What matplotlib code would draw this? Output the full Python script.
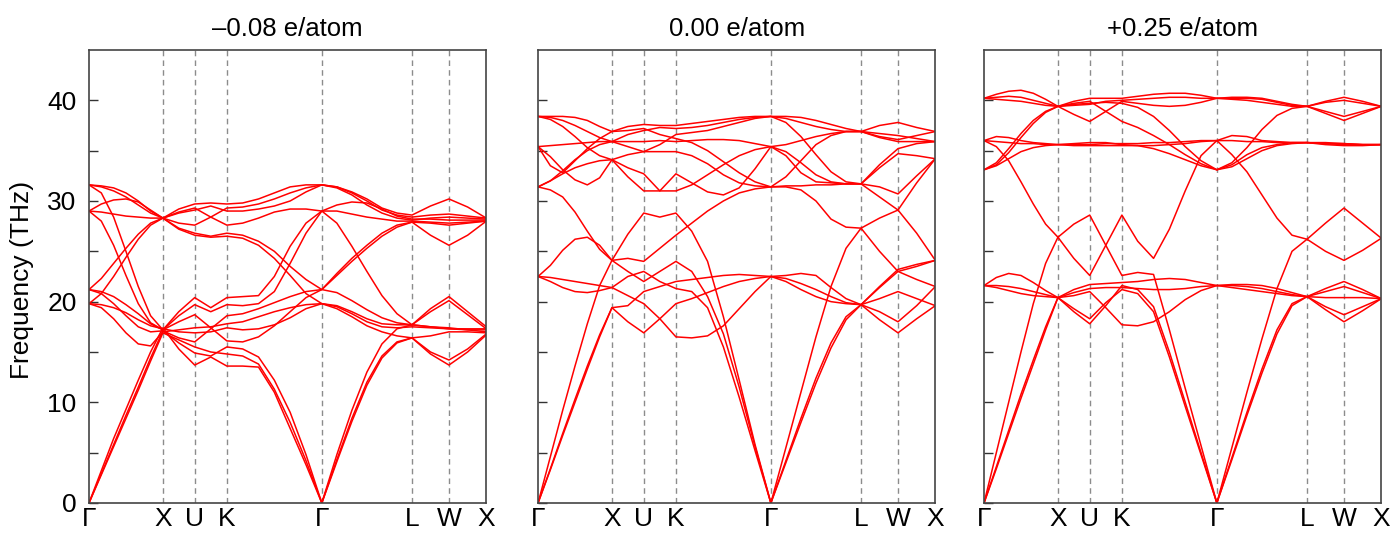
import matplotlib.pyplot as plt
import numpy as np

plt.rcParams["font.family"] = ["Liberation Sans", "DejaVu Sans"]

# high-symmetry path: labels and fractional positions of the points
labels = ["Γ", "X", "U", "K", "Γ", "L", "W", "X"]
kticks = [0.0, 0.186, 0.266, 0.347, 0.586, 0.813, 0.906, 1.0]
# number of q-points per segment (end points included)
seg_samples = [7, 3, 3, 7, 7, 3, 3]

titles = ["\u20130.08 e/atom", "0.00 e/atom", "+0.25 e/atom"]

# phonon branches in THz, one row per branch, 27 q-points along the path
bands_m008 = [
    [31.6, 31.4, 31.0, 30.4, 29.6, 28.8, 28.3, 29.2, 29.7, 29.8, 29.7, 29.8, 30.2, 30.8, 31.4, 31.6, 31.6, 31.4, 30.9, 30.2, 29.3, 28.8, 28.6, 29.5, 30.2, 29.4, 28.3],
    [29.0, 29.7, 30.1, 30.2, 29.9, 29.1, 28.3, 27.8, 27.6, 28.4, 29.3, 29.4, 29.7, 30.2, 30.8, 31.3, 31.6, 31.4, 30.8, 30.0, 29.1, 28.6, 28.4, 28.6, 28.7, 28.5, 28.3],
    [29.0, 28.9, 28.7, 28.5, 28.4, 28.3, 28.3, 28.8, 29.1, 29.5, 29.0, 29.0, 29.2, 29.5, 30.0, 30.9, 31.6, 31.3, 30.6, 29.6, 28.8, 28.3, 28.1, 28.3, 28.4, 28.3, 28.2],
    [31.6, 31.5, 31.3, 30.8, 30.0, 29.0, 28.3, 28.9, 29.3, 28.4, 27.6, 27.8, 28.3, 28.9, 29.2, 29.2, 29.0, 29.6, 29.9, 29.8, 29.2, 28.5, 28.2, 28.2, 28.1, 28.1, 28.1],
    [19.8, 20.8, 22.5, 24.4, 26.2, 27.6, 28.3, 27.3, 26.8, 26.5, 26.8, 26.6, 26.0, 25.0, 23.5, 22.2, 21.2, 22.8, 24.3, 25.6, 26.8, 27.6, 27.9, 27.8, 27.6, 27.8, 28.0],
    [21.2, 22.3, 23.8, 25.3, 26.7, 27.8, 28.3, 27.2, 26.6, 26.4, 26.5, 26.3, 25.6, 24.3, 22.6, 20.8, 19.8, 19.6, 19.0, 18.3, 17.8, 17.7, 17.7, 17.5, 17.3, 17.3, 17.3],
    [31.6, 30.8, 28.4, 25.0, 21.5, 18.6, 17.2, 19.0, 20.4, 19.4, 20.4, 20.5, 20.6, 22.5, 25.5, 27.8, 29.0, 27.8, 25.5, 23.0, 20.6, 18.8, 17.7, 19.3, 20.5, 19.0, 17.5],
    [29.0, 28.0, 25.6, 22.6, 19.8, 17.9, 17.2, 18.6, 19.7, 19.0, 19.7, 19.6, 19.8, 21.0, 23.8, 26.8, 29.0, 29.0, 28.7, 28.4, 28.2, 28.0, 28.0, 27.9, 27.8, 27.9, 28.0],
    [21.2, 20.8, 19.8, 18.6, 17.5, 17.0, 17.1, 16.4, 16.0, 17.3, 18.6, 18.8, 19.3, 19.9, 20.5, 21.0, 21.2, 22.6, 24.0, 25.3, 26.5, 27.4, 27.9, 26.6, 25.6, 26.6, 28.0],
    [21.2, 21.0, 20.5, 19.7, 18.8, 17.8, 17.2, 18.0, 18.7, 17.4, 16.1, 16.0, 16.5, 17.6, 19.0, 20.4, 21.2, 20.9, 20.1, 19.2, 18.4, 17.9, 17.7, 19.0, 20.1, 18.7, 17.3],
    [19.8, 19.4, 18.3, 16.9, 15.8, 15.6, 17.0, 17.2, 17.4, 17.5, 17.8, 18.0, 18.5, 19.0, 19.4, 19.7, 19.8, 19.3, 18.5, 17.6, 17.0, 16.6, 16.4, 15.0, 14.2, 15.3, 16.8],
    [19.8, 19.7, 19.4, 18.9, 18.2, 17.6, 17.3, 17.0, 16.9, 17.0, 17.4, 17.2, 17.3, 17.7, 18.4, 19.3, 19.8, 19.5, 18.8, 18.0, 17.5, 17.4, 17.5, 17.4, 17.3, 17.2, 17.2],
    [0.0, 2.9, 5.8, 8.7, 11.5, 14.4, 17.1, 15.9, 14.9, 14.6, 15.5, 15.3, 14.5, 12.2, 9.0, 4.8, 0.0, 4.3, 8.4, 12.0, 14.6, 16.0, 16.4, 14.8, 13.7, 15.0, 16.7],
    [0.0, 2.8, 5.6, 8.4, 11.2, 14.1, 16.9, 16.2, 15.5, 15.0, 14.8, 14.6, 13.8, 11.3, 8.0, 4.2, 0.0, 4.1, 8.1, 11.7, 14.4, 15.9, 16.4, 16.6, 17.0, 17.0, 16.9],
    [0.0, 3.2, 6.4, 9.3, 12.2, 15.0, 17.4, 15.3, 13.7, 14.5, 13.6, 13.6, 13.5, 11.0, 7.4, 3.8, 0.0, 4.8, 9.2, 13.0, 15.8, 17.3, 17.7, 17.5, 17.4, 17.2, 17.0],
]

bands_000 = [
    [38.4, 38.4, 38.4, 38.3, 38.0, 37.4, 36.9, 37.4, 37.6, 37.5, 37.5, 37.7, 37.9, 38.1, 38.3, 38.4, 38.4, 38.4, 38.3, 38.0, 37.6, 37.2, 36.9, 37.5, 37.8, 37.3, 36.9],
    [38.4, 38.3, 38.0, 37.5, 36.9, 36.3, 35.9, 36.6, 37.0, 37.3, 37.2, 37.3, 37.5, 37.8, 38.1, 38.3, 38.4, 38.2, 37.8, 37.4, 37.1, 36.9, 36.9, 36.7, 36.5, 36.2, 35.9],
    [31.4, 32.0, 33.0, 34.1, 35.0, 35.6, 35.9, 35.4, 34.9, 35.6, 36.6, 36.8, 37.0, 37.4, 37.8, 38.2, 38.4, 37.8, 36.4, 34.6, 32.9, 31.9, 31.7, 33.3, 34.7, 34.5, 34.2],
    [35.4, 35.5, 35.6, 35.7, 35.8, 35.9, 35.9, 35.9, 35.9, 36.0, 35.9, 36.0, 36.1, 36.1, 36.0, 35.7, 35.4, 35.6, 36.0, 36.4, 36.7, 36.9, 36.9, 36.4, 36.1, 36.5, 36.9],
    [35.4, 34.4, 33.1, 32.1, 31.6, 32.3, 34.1, 33.3, 32.7, 31.0, 32.7, 31.8, 30.9, 30.6, 31.3, 33.2, 35.4, 34.5, 32.8, 31.9, 31.8, 31.7, 31.7, 31.4, 30.7, 32.5, 34.2],
    [31.4, 32.0, 32.7, 33.3, 33.7, 34.0, 34.1, 32.4, 31.0, 31.0, 31.0, 31.6, 32.6, 33.6, 34.5, 35.1, 35.4, 34.9, 33.8, 32.6, 31.9, 31.7, 31.7, 33.6, 35.2, 35.7, 35.9],
    [38.4, 38.1, 37.4, 36.4, 35.3, 34.5, 34.1, 34.6, 34.9, 34.9, 34.9, 34.5, 33.7, 32.6, 31.8, 31.5, 31.4, 32.4, 34.0, 35.6, 36.5, 36.9, 36.9, 36.3, 35.9, 35.9, 35.9],
    [35.4, 33.5, 32.8, 34.0, 35.2, 36.2, 36.9, 37.0, 37.2, 36.6, 36.2, 35.8, 35.0, 33.9, 32.8, 31.9, 31.4, 31.5, 31.5, 31.6, 31.6, 31.7, 31.7, 30.4, 29.1, 31.8, 34.2],
    [31.4, 31.1, 30.4, 28.9, 27.0, 25.2, 24.1, 26.7, 28.8, 28.4, 28.8, 27.0, 24.0, 18.5, 12.2, 5.8, 0.0, 5.5, 11.0, 16.5, 21.5, 25.3, 27.3, 25.0, 23.0, 23.5, 24.1],
    [22.5, 23.6, 25.1, 26.2, 26.4, 25.6, 24.1, 24.3, 24.0, 25.3, 26.6, 27.8, 29.0, 30.0, 30.8, 31.2, 31.4, 31.4, 31.1, 30.0, 28.2, 27.4, 27.3, 28.3, 29.1, 26.8, 24.1],
    [0.0, 4.6, 9.2, 13.6, 17.8, 21.6, 24.1, 23.0, 22.0, 23.0, 24.0, 23.0, 20.5, 16.8, 11.5, 5.6, 0.0, 4.2, 8.4, 12.4, 15.9, 18.5, 19.7, 18.2, 16.9, 18.3, 19.6],
    [22.5, 22.4, 22.2, 22.0, 21.8, 21.6, 21.4, 22.5, 23.0, 22.0, 21.3, 21.0, 19.4, 15.5, 10.5, 5.2, 0.0, 4.0, 8.0, 11.9, 15.4, 18.2, 19.7, 20.3, 21.0, 20.3, 19.6],
    [22.5, 22.0, 21.4, 21.0, 20.9, 21.1, 21.4, 20.6, 19.8, 18.3, 16.5, 16.4, 16.6, 17.6, 19.3, 21.0, 22.5, 22.6, 22.8, 22.6, 21.4, 20.3, 19.7, 21.5, 23.2, 23.7, 24.1],
    [0.0, 3.4, 6.9, 10.3, 13.6, 16.7, 19.4, 18.0, 16.9, 18.3, 19.8, 20.3, 20.9, 21.5, 22.0, 22.3, 22.5, 22.3, 21.8, 21.2, 20.5, 19.9, 19.7, 21.4, 23.0, 22.2, 21.5],
    [0.0, 3.3, 6.7, 10.0, 13.3, 16.5, 19.4, 19.6, 21.0, 21.5, 22.0, 22.2, 22.4, 22.6, 22.7, 22.6, 22.5, 22.0, 21.2, 20.5, 20.0, 19.8, 19.7, 19.0, 18.0, 19.6, 21.5],
]

bands_p025 = [
    [40.2, 40.6, 40.9, 41.0, 40.7, 40.1, 39.4, 39.9, 40.2, 40.2, 40.2, 40.4, 40.6, 40.7, 40.7, 40.5, 40.2, 40.3, 40.3, 40.2, 39.9, 39.6, 39.4, 39.9, 40.3, 39.9, 39.4],
    [33.1, 33.6, 34.8, 36.3, 37.7, 38.8, 39.4, 39.5, 39.6, 39.9, 40.0, 40.1, 40.2, 40.3, 40.3, 40.2, 40.2, 40.2, 40.2, 40.1, 39.8, 39.5, 39.4, 39.8, 40.0, 39.7, 39.4],
    [40.2, 40.3, 40.4, 40.3, 40.0, 39.7, 39.4, 38.6, 37.9, 38.9, 39.9, 39.7, 39.5, 39.4, 39.5, 39.8, 40.2, 40.1, 40.0, 39.8, 39.6, 39.4, 39.4, 38.9, 38.4, 38.9, 39.4],
    [33.1, 33.8, 35.2, 36.7, 38.0, 38.9, 39.4, 39.6, 39.7, 39.8, 39.7, 39.3, 38.4, 37.0, 35.4, 34.0, 33.1, 33.8, 35.3, 37.1, 38.5, 39.2, 39.4, 38.7, 38.0, 38.7, 39.4],
    [40.2, 40.1, 40.0, 39.9, 39.7, 39.5, 39.4, 39.7, 39.9, 38.9, 37.9, 37.3, 36.5, 35.6, 34.6, 33.7, 33.1, 33.4, 34.2, 35.0, 35.5, 35.7, 35.8, 35.7, 35.7, 35.6, 35.6],
    [36.0, 36.4, 36.3, 36.0, 35.8, 35.7, 35.6, 35.7, 35.8, 35.8, 35.6, 35.5, 35.2, 34.7, 34.1, 33.5, 33.1, 33.6, 34.6, 35.3, 35.6, 35.8, 35.8, 35.8, 35.7, 35.6, 35.6],
    [33.1, 33.5, 34.2, 34.9, 35.3, 35.5, 35.6, 35.6, 35.6, 35.7, 35.7, 35.7, 35.8, 35.8, 35.9, 36.0, 36.0, 36.5, 36.4, 36.0, 35.9, 35.8, 35.8, 35.7, 35.6, 35.6, 35.6],
    [36.0, 35.9, 35.8, 35.7, 35.7, 35.6, 35.6, 35.5, 35.5, 35.5, 35.5, 35.5, 35.5, 35.6, 35.7, 35.9, 36.0, 36.0, 35.9, 35.9, 35.8, 35.8, 35.8, 35.6, 35.5, 35.5, 35.6],
    [0.0, 5.0, 10.0, 15.0, 19.8, 23.8, 26.4, 24.3, 22.6, 25.6, 28.6, 26.0, 24.3, 27.2, 31.0, 34.5, 36.0, 34.6, 32.9, 30.6, 28.3, 26.6, 26.2, 27.8, 29.3, 27.8, 26.3],
    [36.0, 35.4, 34.0, 31.9, 29.7, 27.7, 26.4, 27.7, 28.6, 25.6, 22.6, 22.9, 22.7, 17.2, 11.4, 5.7, 0.0, 5.5, 11.0, 16.3, 21.3, 25.0, 26.2, 25.0, 24.1, 25.1, 26.3],
    [21.6, 22.4, 22.8, 22.6, 21.9, 21.1, 20.4, 21.2, 21.7, 21.8, 21.9, 22.0, 22.2, 22.3, 22.2, 21.9, 21.6, 21.7, 21.7, 21.6, 21.3, 20.9, 20.5, 21.3, 22.0, 21.2, 20.3],
    [21.6, 21.6, 21.5, 21.3, 21.0, 20.7, 20.4, 20.9, 21.3, 21.4, 21.4, 21.3, 21.2, 21.2, 21.3, 21.5, 21.6, 21.6, 21.5, 21.3, 21.0, 20.7, 20.5, 21.0, 21.5, 20.9, 20.3],
    [21.6, 21.4, 21.1, 20.8, 20.6, 20.5, 20.4, 20.6, 21.0, 19.4, 17.7, 17.6, 18.0, 19.0, 20.2, 21.1, 21.6, 21.4, 21.2, 21.0, 20.8, 20.6, 20.5, 20.4, 20.4, 20.4, 20.3],
    [0.0, 3.6, 7.2, 10.8, 14.2, 17.5, 20.4, 19.0, 17.8, 19.6, 21.6, 21.2, 19.5, 15.0, 10.0, 5.0, 0.0, 4.5, 9.0, 13.3, 17.2, 19.8, 20.5, 19.5, 18.7, 19.5, 20.3],
    [0.0, 3.4, 6.9, 10.4, 13.8, 17.2, 20.4, 19.3, 18.3, 19.9, 21.2, 20.8, 19.0, 14.5, 9.6, 4.8, 0.0, 4.3, 8.7, 12.9, 16.8, 19.6, 20.5, 19.2, 18.0, 19.1, 20.3],
]


def kpath() -> np.ndarray:
    xs = [kticks[0]]
    for i, n in enumerate(seg_samples):
        xs.extend(np.linspace(kticks[i], kticks[i + 1], n)[1:])
    return np.array(xs)


def draw_panel(ax, bands, title, show_ylabels):
    qx = kpath()
    for band in bands:
        ax.plot(qx, band, color="#ff0000", lw=1.1, solid_joinstyle="round")

    for x in kticks[1:-1]:
        ax.axvline(x, color="#8c8c8c", ls=(0, (4, 3)), lw=1.0, zorder=0)

    ax.set_xlim(0, 1)
    ax.set_ylim(0, 45)
    ax.set_xticks(kticks)
    ax.set_xticklabels(labels)
    ax.set_yticks([0, 10, 20, 30, 40])
    ax.set_yticks([5, 15, 25, 35], minor=True)
    ax.tick_params(axis="y", which="both", direction="in", length=6.5,
                   width=1.0, color="#333333", labelsize=19, pad=9)
    ax.tick_params(axis="x", length=0, labelsize=19, pad=3)
    if not show_ylabels:
        ax.set_yticklabels([])
    for sp in ax.spines.values():
        sp.set_color("#444444")
        sp.set_linewidth(1.2)
    ax.set_title(title, fontsize=18.5, pad=10)


fig = plt.figure(figsize=(13.95, 5.38), dpi=100)
lefts = [0.0638, 0.3857, 0.7054]
all_bands = [bands_m008, bands_000, bands_p025]
for i, (left, bands, title) in enumerate(zip(lefts, all_bands, titles)):
    ax = fig.add_axes([left, 0.0651, 0.2848, 0.842])
    draw_panel(ax, bands, title, show_ylabels=(i == 0))

fig.text(0.016, 0.48, "Frequency (THz)", rotation=90, va="center",
         ha="center", fontsize=19)

fig.savefig("out.png", dpi=100)
